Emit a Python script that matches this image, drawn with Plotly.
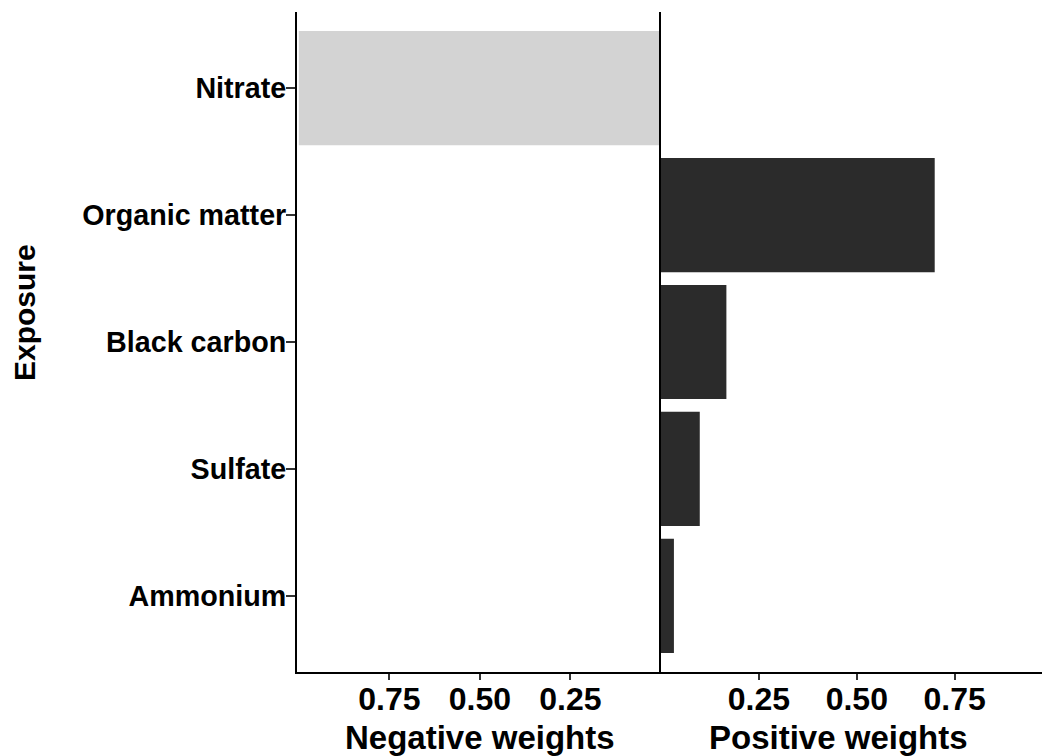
import plotly.graph_objects as go

categories = ["Ammonium", "Sulfate", "Black carbon", "Organic matter", "Nitrate"]
negative_weights = [0.0, 0.0, 0.0, 0.0, 1.0]
positive_weights = [0.033, 0.099, 0.167, 0.699, 0.0]
tick_vals = [0.25, 0.50, 0.75]
tick_text = ["0.25", "0.50", "0.75"]

W, H = 1042, 756
FONT = "Liberation Sans, Arial, sans-serif"


def px(x):
    return x / W


def py(y):
    return 1 - y / H


fig = go.Figure()
fig.add_trace(go.Bar(
    y=categories, x=negative_weights, orientation="h",
    marker=dict(color="#d3d3d3", line=dict(width=0)),
    xaxis="x", yaxis="y", showlegend=False, width=0.9,
))
fig.add_trace(go.Bar(
    y=categories, x=positive_weights, orientation="h",
    marker=dict(color="#2b2b2b", line=dict(width=0)),
    xaxis="x2", yaxis="y2", showlegend=False, width=0.9,
))

ydom = [py(672), py(12)]
tickfont_x = dict(family=FONT, size=32, color="black", weight="bold")
tickfont_y = dict(family=FONT, size=28.7, color="black", weight="bold")

fig.update_layout(
    width=W, height=H,
    margin=dict(l=0, r=0, t=0, b=0),
    paper_bgcolor="white", plot_bgcolor="white",
    xaxis=dict(
        domain=[px(297), px(661)], range=[1.005, 0],
        tickvals=tick_vals, ticktext=tick_text,
        showline=True, linecolor="black", linewidth=2,
        ticks="outside", ticklen=6, tickwidth=2, tickcolor="#333333",
        showgrid=False, zeroline=False, tickfont=tickfont_x,
        ticklabelstandoff=-8,
        anchor="y",
    ),
    xaxis2=dict(
        domain=[px(661), 1.0], range=[0, 0.973],
        tickvals=tick_vals, ticktext=tick_text,
        showline=True, linecolor="black", linewidth=2,
        ticks="outside", ticklen=6, tickwidth=2, tickcolor="#333333",
        showgrid=False, zeroline=False, tickfont=tickfont_x,
        ticklabelstandoff=-8,
        anchor="y2",
    ),
    yaxis=dict(
        domain=ydom, type="category",
        categoryorder="array", categoryarray=categories,
        range=[-0.6, 4.6],
        showline=True, linecolor="black", linewidth=2,
        ticks="outside", ticklen=9, tickwidth=2, tickcolor="#333333",
        showgrid=False, zeroline=False, tickfont=tickfont_y,
        ticklabelstandoff=-6,
        anchor="x",
    ),
    yaxis2=dict(
        domain=ydom, type="category",
        categoryorder="array", categoryarray=categories,
        range=[-0.6, 4.6], matches="y",
        showline=True, linecolor="black", linewidth=2,
        showticklabels=False, ticks="",
        showgrid=False, zeroline=False,
        anchor="x2",
    ),
    annotations=[
        dict(text="Negative weights", x=px(480), y=py(737),
             xref="paper", yref="paper", showarrow=False,
             xanchor="center", yanchor="middle",
             font=dict(family=FONT, size=33, color="black", weight="bold")),
        dict(text="Positive weights", x=px(838), y=py(737),
             xref="paper", yref="paper", showarrow=False,
             xanchor="center", yanchor="middle",
             font=dict(family=FONT, size=33, color="black", weight="bold")),
        dict(text="Exposure", x=px(25), y=py(313),
             xref="paper", yref="paper", showarrow=False, textangle=-90,
             xanchor="center", yanchor="middle",
             font=dict(family=FONT, size=30, color="black", weight="bold")),
    ],
)

fig.write_html(
    "out.html",
    config={"displayModeBar": False},
    post_script="document.body.style.margin='0';document.body.style.overflow='hidden';",
)
